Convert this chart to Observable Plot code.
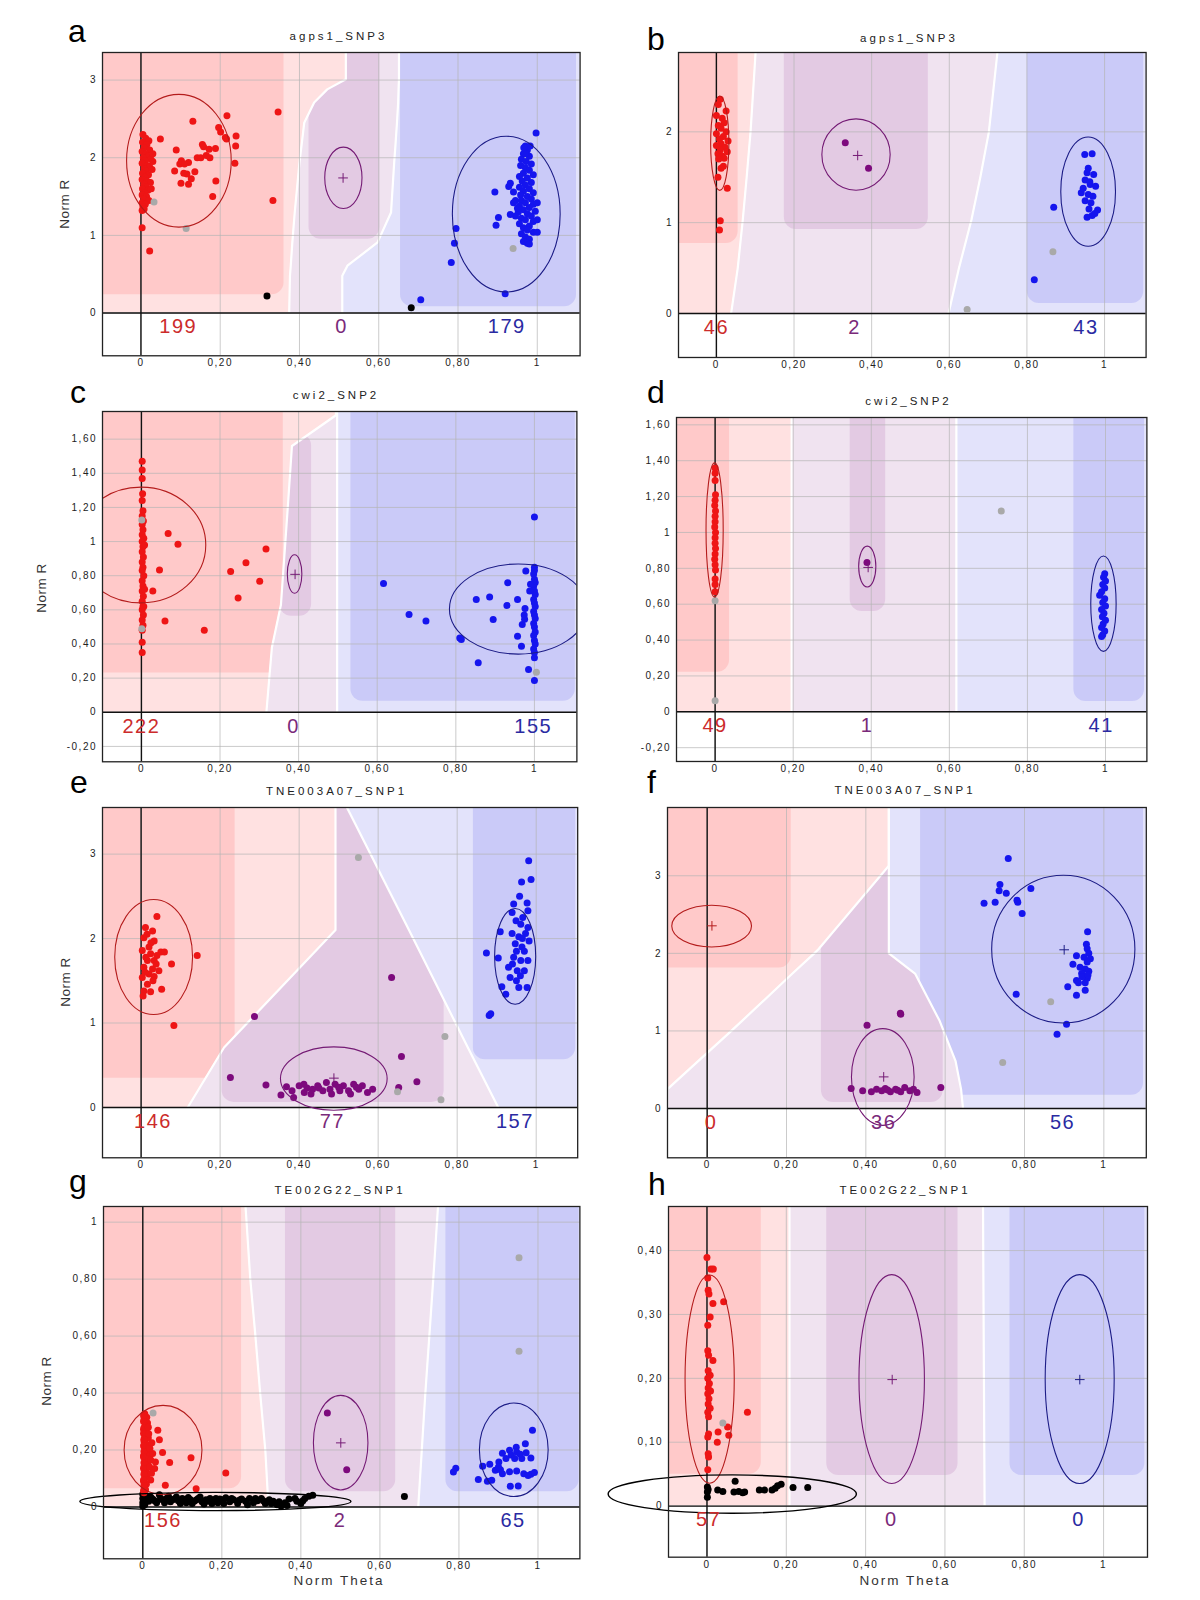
<!DOCTYPE html>
<html><head><meta charset="utf-8">
<script src="https://cdn.jsdelivr.net/npm/d3@7"></script>
<script src="https://cdn.jsdelivr.net/npm/@observablehq/plot@0.6"></script>
<style>
body{margin:0;background:#fff;}
#fig{position:relative;width:1200px;height:1600px;background:#fff;overflow:hidden;font-family:"Liberation Sans",Arial,sans-serif;}
.lbl{position:absolute;white-space:nowrap;line-height:1;color:#111;}
#fig svg text{letter-spacing:1.5px;}
</style></head><body><div id="fig"></div>
<script>
// ---------- tick values ----------
const xTicks = [0, 0.2, 0.4, 0.6, 0.8, 1];
const yTicksA = [0, 1, 2, 3];
const yTicksB = [0, 1, 2];
const yTicksC = [-0.2, 0, 0.2, 0.4, 0.6, 0.8, 1, 1.2, 1.4, 1.6];
const yTicksG = [0, 0.2, 0.4, 0.6, 0.8, 1];
const yTicksH = [0, 0.1, 0.2, 0.3, 0.4];

// ---------- titles / letters ----------
const panelLetters = ["a","b","c","d","e","f","g","h"];
const panelTitles = ["agps1_SNP3","agps1_SNP3","cwi2_SNP2","cwi2_SNP2","TNE003A07_SNP1","TNE003A07_SNP1","TE002G22_SNP1","TE002G22_SNP1"];

// ---------- panel a ----------
const aRed = [[0.005,2.3],[0.012,2.25],[0.02,2.22],[0.004,2.2],[0.015,2.17],[0.008,2.13],[0.022,2.1],[0.003,2.08],[0.012,2.05],[0.018,2.02],[0.006,2.0],[0.025,1.98],[0.01,1.96],[0.003,1.93],[0.016,1.9],[0.022,1.88],[0.008,1.86],[0.013,1.83],[0.004,1.8],[0.019,1.78],[0.01,1.75],[0.003,1.72],[0.015,1.7],[0.024,1.68],[0.007,1.66],[0.012,1.63],[0.004,1.6],[0.018,1.58],[0.009,1.55],[0.003,1.52],[0.014,1.5],[0.007,1.47],[0.02,1.45],[0.003,1.42],[0.011,1.4],[0.005,1.37],[0.008,1.34],[0.003,1.32],[0.03,1.95],[0.028,1.85],[0.03,2.05],[0.026,1.6],
 [0.003,1.10],[0.022,0.80],[0.049,2.24],[0.089,2.10],[0.085,1.83],[0.098,1.92],[0.102,1.96],[0.116,1.79],[0.101,1.67],[0.12,1.66],[0.127,1.73],[0.12,1.94],[0.136,1.82],[0.131,2.47],[0.142,2.0],[0.155,2.17],[0.151,2.0],[0.158,2.14],[0.174,2.0],[0.172,2.11],[0.165,2.03],[0.188,2.12],[0.189,1.70],[0.181,1.50],[0.196,2.39],[0.201,2.33],[0.217,2.54],[0.216,2.24],[0.213,2.26],[0.24,2.28],[0.239,2.15],[0.237,1.93],[0.346,2.59],[0.333,1.45],[0.11,1.92],[0.108,1.8]];
const aPurple = [];
const aBlue = [[0.97,2.15],[0.975,2.1],[0.965,2.05],[0.98,2.02],[0.96,1.98],[0.972,1.95],[0.985,1.92],[0.958,1.9],[0.97,1.87],[0.98,1.84],[0.965,1.8],[0.99,1.78],[0.955,1.76],[0.975,1.74],[0.962,1.7],[0.985,1.68],[0.97,1.65],[0.955,1.62],[0.98,1.6],[0.965,1.57],[0.99,1.55],[0.958,1.52],[0.975,1.5],[0.985,1.47],[0.96,1.45],[0.97,1.42],[0.99,1.4],[0.955,1.38],[0.98,1.36],[0.965,1.33],[0.995,1.31],[0.952,1.3],[0.975,1.28],[0.985,1.25],[0.96,1.22],[0.97,1.2],[0.99,1.18],[0.955,1.15],[0.98,1.12],[0.965,1.1],[0.975,1.07],[0.99,1.04],[0.96,1.02],[0.97,0.98],[0.98,0.95],[0.965,0.92],[0.975,0.9],[1.0,1.42],[1.0,1.2],[0.945,1.45],[0.945,1.25],
 [0.997,2.32],[0.982,2.15],[0.966,2.13],[0.97,2.05],[0.893,1.56],[0.932,1.67],[0.928,1.63],[0.94,1.56],[0.932,1.27],[0.902,1.23],[0.896,1.13],[0.795,1.09],[0.791,0.90],[0.783,0.65],[0.919,0.25],[0.706,0.17],[1.0,1.04],[0.98,0.89],[0.95,1.35],[0.94,1.42]];
const aGray = [[0.033,1.43],[0.114,1.09],[0.939,0.83]];
const aBlack = [[0.318,0.22],[0.682,0.07]];
const aEllipses = [["AA",0.097,1.955,0.132,0.855],["AB",0.512,1.735,0.047,0.395],["BB",0.923,1.268,0.136,1.003]];
const aCenters = [["AB",0.51,1.74]];
const aCounts = [["AA",0.094,"199"],["AB",0.506,"0"],["BB",0.923,"179"]];
const aBy = [0,0.48,0.61,0.91,1.295,1.94,2.15,2.45,2.71,2.88,3.01,3.355];
const aB1 = [0.374,0.376,0.378,0.382,0.388,0.4,0.405,0.412,0.437,0.47,0.517,0.517];
const aB2 = [0.508,0.508,0.521,0.597,0.631,0.639,0.642,0.646,0.649,0.65,0.651,0.651];
const aDark = [["AA",-0.3,0.361,0.236],["AB",0.424,0.603,0.95],["BB",0.655,1.099,0.08]];

// ---------- panel b ----------
const bRed = [[0.01,2.36],[0.005,2.3],[0.025,2.23],[0.0,2.18],[0.015,2.15],[0.02,2.1],[0.005,2.07],[0.012,2.04],[0.025,2.0],[0.0,1.98],[0.018,1.95],[0.008,1.92],[0.03,1.9],[0.012,1.87],[0.0,1.85],[0.022,1.83],[0.01,1.8],[0.028,1.78],[0.004,1.76],[0.015,1.73],[0.02,1.71],[0.006,1.7],[0.018,1.62],[0.012,1.6],[0.004,1.5],[0.028,1.38],[0.01,1.02],[0.008,0.92]];
const bPurple = [[0.332,1.88],[0.392,1.60]];
const bBlue = [[0.949,1.75],[0.968,1.76],[0.958,1.6],[0.955,1.55],[0.972,1.53],[0.95,1.47],[0.963,1.42],[0.977,1.4],[0.94,1.33],[0.958,1.31],[0.97,1.29],[0.95,1.24],[0.965,1.22],[0.96,1.15],[0.982,1.14],[0.968,1.08],[0.955,1.06],[0.975,1.1],[0.869,1.17],[0.819,0.37],[0.962,1.45],[0.945,1.38]];
const bGray = [[0.867,0.68],[0.646,0.044]];
const bBlack = [];
const bEllipses = [["AA",0.01,1.87,0.0235,0.52],["AB",0.361,1.745,0.088,0.393],["BB",0.959,1.336,0.0705,0.602]];
const bCenters = [["AB",0.364,1.74]];
const bCounts = [["AA",0.0,"46"],["AB",0.356,"2"],["BB",0.952,"43"]];
const bBy = [0,0.5,1.03,1.5,2.0,2.874];
const bB1 = [0.038,0.055,0.068,0.078,0.088,0.101];
const bB2 = [0.598,0.625,0.657,0.68,0.702,0.724];
const bDark = [["AA",-0.3,0.056,0.77],["AB",0.175,0.546,0.925],["BB",0.801,1.101,0.11]];

// ---------- panel c ----------
const cRed = [[0.002,1.47],[0.002,1.42],[0.002,1.37],[0.003,1.28],[0.002,1.24],[0.004,1.18],[0.002,1.15],[0.005,1.12],[0.002,1.1],[0.004,1.07],[0.002,1.04],[0.006,1.02],[0.002,1.0],[0.004,0.97],[0.002,0.94],[0.005,0.91],[0.002,0.88],[0.004,0.85],[0.002,0.83],[0.006,0.8],[0.002,0.77],[0.004,0.74],[0.002,0.71],[0.005,0.68],[0.002,0.65],[0.004,0.62],[0.002,0.6],[0.005,0.57],[0.002,0.54],[0.004,0.51],[0.002,0.48],[0.002,0.41],[0.002,0.35],
 [0.068,1.047],[0.093,0.984],[0.046,0.833],[0.029,0.71],[0.06,0.534],[0.16,0.481],[0.227,0.825],[0.266,0.876],[0.246,0.669],[0.301,0.767],[0.317,0.956],[0.008,0.98],[0.008,0.72],[0.006,0.62]];
const cPurple = [];
const cBlue = [[1.0,0.85],[1.0,0.83],[0.998,0.81],[1.0,0.78],[1.002,0.76],[0.998,0.74],[1.0,0.71],[1.002,0.69],[0.998,0.66],[1.0,0.64],[1.002,0.62],[0.998,0.59],[1.0,0.57],[1.002,0.55],[0.998,0.52],[1.0,0.5],[1.002,0.47],[0.998,0.45],[1.0,0.42],[1.002,0.4],[0.998,0.37],[1.0,0.35],[1.0,0.32],[1.0,1.144],[1.0,0.186],
 [0.616,0.755],[0.681,0.573],[0.724,0.534],[0.814,0.426],[0.81,0.435],[0.857,0.29],[0.852,0.661],[0.886,0.675],[0.932,0.759],[0.93,0.626],[0.957,0.661],[0.895,0.544],[0.976,0.608],[0.974,0.57],[0.969,0.514],[0.957,0.446],[0.967,0.387],[0.985,0.25],[0.978,0.827],[0.99,0.75],[0.988,0.71],[0.975,0.545]];
const cGray = [[0.001,1.127],[0.001,0.49],[1.005,0.235]];
const cBlack = [];
const cEllipses = [["AA",0.0,0.977,0.165,0.339],["AB",0.391,0.807,0.0185,0.1125],["BB",0.96,0.602,0.175,0.264]];
const cCenters = [["AB",0.391,0.808]];
const cCounts = [["AA",0.0,"222"],["AB",0.387,"0"],["BB",0.997,"155"]];
const cBy = [0,0.38,0.63,1.22,1.56,1.74,1.762];
const cB1 = [0.318,0.332,0.355,0.373,0.383,0.495,0.495];
const cB2 = [0.498,0.498,0.498,0.498,0.498,0.498,0.498];
const cDark = [["AA",-0.3,0.361,0.23],["AB",0.352,0.433,0.563,1.63],["BB",0.533,1.104,0.065]];

// ---------- panel d ----------
const dRed = [[0.0,1.36],[0.0,1.33],[0.0,1.29],[0.001,1.21],[0.0,1.18],[-0.001,1.15],[0.001,1.12],[0.0,1.09],[0.0,1.06],[-0.001,1.03],[0.001,1.0],[0.0,0.97],[0.0,0.94],[0.001,0.91],[0.0,0.88],[-0.001,0.85],[0.0,0.82],[0.001,0.79],[0.0,0.74],[0.0,0.71],[0.0,0.67]];
const dPurple = [[0.389,0.833]];
const dBlue = [[0.998,0.77],[0.995,0.75],[1.0,0.73],[0.993,0.71],[0.998,0.69],[0.99,0.67],[0.985,0.65],[0.998,0.63],[0.993,0.61],[1.0,0.59],[0.99,0.57],[0.996,0.55],[0.992,0.53],[1.0,0.51],[0.994,0.49],[0.99,0.47],[0.998,0.45],[0.993,0.43],[0.99,0.42]];
const dGray = [[0.0,0.619],[0.0,0.061],[0.733,1.12]];
const dBlack = [];
const dEllipses = [["AA",0.0,1.011,0.022,0.374],["AB",0.391,0.807,0.022,0.114],["BB",0.996,0.6,0.0325,0.266]];
const dCenters = [["AB",0.392,0.805]];
const dCounts = [["AA",0.0,"49"],["AB",0.389,"1"],["BB",0.989,"41"]];
const dBy = [0,1.641];
const dB1 = [0.196,0.196];
const dB2 = [0.618,0.618];
const dDark = [["AA",-0.3,0.037,0.22],["AB",0.346,0.437,0.559],["BB",0.919,1.1,0.058]];

// ---------- panel e ----------
const eRed = [[0.04,2.26],[0.011,2.13],[0.029,2.09],[0.007,2.01],[0.033,1.97],[0.02,1.90],[0.003,1.86],[0.024,1.82],[0.05,1.84],[0.059,1.84],[0.016,1.74],[0.033,1.74],[0.007,1.66],[0.029,1.64],[0.02,1.58],[0.003,1.54],[0.033,1.55],[0.016,1.46],[0.007,1.38],[0.024,1.37],[0.052,1.40],[0.005,1.32],[0.077,1.70],[0.142,1.80],[0.083,0.97],[0.012,1.78],[0.038,1.7],[0.025,1.95],[0.01,1.6],[0.045,1.62],[0.015,2.05],[0.03,1.5],[0.04,1.8]];
const ePurple = [[0.354,0.146],[0.368,0.245],[0.382,0.197],[0.4,0.256],[0.413,0.178],[0.412,0.276],[0.434,0.217],[0.447,0.256],[0.46,0.197],[0.469,0.296],[0.478,0.217],[0.491,0.276],[0.503,0.197],[0.512,0.256],[0.525,0.197],[0.538,0.276],[0.551,0.217],[0.56,0.256],[0.573,0.178],[0.586,0.217],[0.386,0.118],[0.43,0.158],[0.482,0.158],[0.53,0.158],[0.226,0.355],[0.316,0.265],[0.287,1.078],[0.634,1.54],[0.659,0.604],[0.652,0.237],[0.698,0.304],[0.45,0.23],[0.5,0.24],[0.545,0.24],[0.42,0.23]];
const eBlue = [[0.981,2.92],[0.987,2.70],[0.963,2.67],[0.958,2.50],[0.943,2.41],[0.977,2.42],[0.939,2.31],[0.979,2.33],[0.949,2.21],[0.966,2.25],[0.961,2.17],[0.979,2.13],[0.909,2.08],[0.939,2.06],[0.956,2.02],[0.973,2.06],[0.947,1.94],[0.964,1.90],[0.982,1.97],[0.874,1.83],[0.904,1.77],[0.943,1.78],[0.961,1.74],[0.93,1.66],[0.952,1.62],[0.979,1.74],[0.934,1.54],[0.96,1.56],[0.956,1.42],[0.977,1.42],[0.913,1.43],[0.923,1.34],[0.881,1.09],[0.885,1.11],[0.95,1.85],[0.97,1.85],[0.94,1.7],[0.965,2.0],[0.95,1.5],[0.97,1.62]];
const eGray = [[0.55,2.96],[0.769,0.84],[0.649,0.186],[0.759,0.091]];
const eBlack = [];
const eEllipses = [["AA",0.033,1.775,0.0985,0.681],["AB",0.489,0.336,0.135,0.375],["BB",0.948,1.783,0.052,0.567]];
const eCenters = [["AB",0.488,0.347]];
const eCounts = [["AA",0.03,"146"],["AB",0.484,"77"],["BB",0.946,"157"]];
const eBy = [0,0.71,2.1,3.552];
const eB1 = [0.118,0.21,0.492,0.492];
const eB2 = [0.904,0.827,0.678,0.521];
const eDark = [["AA",-0.3,0.238,0.347],["AB",0.205,0.767,0.06],["BB",0.841,1.1,0.565]];

// ---------- panel f ----------
const fRed = [];
const fPurple = [[0.363,0.258],[0.392,0.228],[0.414,0.215],[0.427,0.25],[0.44,0.228],[0.449,0.258],[0.462,0.215],[0.475,0.25],[0.488,0.215],[0.498,0.271],[0.511,0.228],[0.52,0.25],[0.529,0.206],[0.589,0.271],[0.403,1.074],[0.487,1.229],[0.488,1.215],[0.455,0.24],[0.48,0.235]];
const fBlue = [[0.959,2.278],[0.956,2.119],[0.958,2.06],[0.962,2.0],[0.931,1.968],[0.95,1.95],[0.966,1.93],[0.958,1.89],[0.922,1.861],[0.94,1.82],[0.953,1.8],[0.962,1.77],[0.944,1.74],[0.931,1.65],[0.958,1.68],[0.909,1.569],[0.936,1.62],[0.953,1.62],[0.931,1.461],[0.953,1.526],[0.759,3.223],[0.738,2.888],[0.736,2.806],[0.754,2.776],[0.816,2.836],[0.698,2.647],[0.726,2.66],[0.781,2.686],[0.783,2.66],[0.794,2.514],[0.779,1.474],[0.906,1.087],[0.882,0.958],[0.945,1.7],[0.96,1.72]];
const fGray = [[0.866,1.375],[0.745,0.593]];
const fBlack = [];
const fEllipses = [["AA",0.0125,2.345,0.1005,0.269],["AB",0.444,0.4,0.079,0.623],["BB",0.899,2.048,0.1805,0.952]];
const fCenters = [["AA",0.012,2.355],["AB",0.445,0.408],["BB",0.9,2.046]];
const fCounts = [["AA",0.01,"0"],["AB",0.445,"36"],["BB",0.896,"56"]];
const fBy = [0,0.25,0.615,0.95,1.13,1.74,2.0,2.05,3.13,3.88];
const fB1 = [-0.1,-0.1,-0.022,0.05,0.088,0.215,0.27,0.28,0.458,0.458];
const fB2 = [0.645,0.64,0.626,0.6,0.586,0.524,0.458,0.458,0.458,0.458];
const fDark = [["AA",-0.3,0.212,1.81],["AB",0.288,0.595,0.077],["BB",0.538,1.1,0.17]];

// ---------- panel g ----------
const gRed = [[0.005,0.327],[0.01,0.315],[0.003,0.305],[0.012,0.295],[0.006,0.285],[0.002,0.272],[0.01,0.262],[0.005,0.25],[0.014,0.242],[0.003,0.232],[0.009,0.22],[0.004,0.21],[0.012,0.2],[0.006,0.19],[0.002,0.18],[0.01,0.17],[0.005,0.16],[0.013,0.15],[0.003,0.14],[0.008,0.13],[0.004,0.12],[0.011,0.11],[0.005,0.1],[0.002,0.09],[0.009,0.08],[0.004,0.07],[0.007,0.06],[0.003,0.05],
 [0.002,0.32],[0.002,0.3],[0.003,0.278],[0.002,0.258],[0.003,0.238],[0.002,0.215],[0.003,0.195],[0.002,0.175],[0.003,0.155],[0.002,0.135],[0.003,0.115],[0.002,0.095],[0.003,0.075],[0.002,0.058],
 [0.016,0.21],[0.018,0.18],[0.015,0.17],[0.017,0.14],[0.014,0.28],
 [0.038,0.269],[0.042,0.236],[0.023,0.225],[0.05,0.191],[0.025,0.188],[0.02,0.165],[0.032,0.158],[0.03,0.135],[0.068,0.156],[0.122,0.173],[0.022,0.118],[0.057,0.076],[0.135,0.064],[0.21,0.119],[0.015,0.257],[0.018,0.205],[0.02,0.095]];
const gPurple = [[0.467,0.33],[0.516,0.131]];
const gBlue = [[0.986,0.269],[0.968,0.222],[0.945,0.21],[0.946,0.193],[0.928,0.199],[0.91,0.189],[0.932,0.182],[0.919,0.17],[0.941,0.17],[0.959,0.17],[0.982,0.172],[0.901,0.158],[0.878,0.15],[0.892,0.129],[0.86,0.143],[0.928,0.124],[0.946,0.126],[0.964,0.117],[0.982,0.115],[0.991,0.121],[0.905,0.131],[0.91,0.117],[0.883,0.094],[0.872,0.09],[0.849,0.096],[0.93,0.073],[0.95,0.074],[0.792,0.136],[0.786,0.123],[0.955,0.185],[0.97,0.19],[0.9,0.14],[0.975,0.11]];
const gGray = [[0.026,0.33],[0.952,0.875],[0.952,0.547]];
const gBlack = [[0.0,0.045],[0.0,0.03],[0.0,0.015],[0.0,0.003],[0.01,0.035],[0.015,0.02],[0.025,0.028],[0.035,0.015],[0.042,0.043],[0.05,0.025],[0.06,0.03],[0.07,0.018],[0.08,0.028],[0.09,0.022],[0.1,0.03],[0.11,0.015],[0.12,0.026],[0.13,0.02],[0.14,0.03],[0.15,0.018],[0.16,0.025],[0.17,0.03],[0.18,0.02],[0.19,0.015],[0.2,0.025],[0.21,0.032],[0.22,0.018],[0.23,0.025],[0.24,0.012],[0.25,0.028],[0.26,0.02],[0.27,0.03],[0.28,0.015],[0.29,0.022],[0.3,0.03],[0.31,0.012],[0.32,0.025],[0.33,0.02],[0.34,0.008],[0.35,0.003],[0.36,0.015],[0.37,0.028],[0.39,0.02],[0.4,0.012],[0.41,0.03],[0.42,0.038],[0.43,0.041],
 [0.005,0.038],[0.005,0.022],[0.005,0.008],[0.02,0.035],[0.03,0.022],[0.045,0.03],[0.055,0.015],[0.065,0.038],[0.075,0.025],[0.085,0.035],[0.095,0.012],[0.105,0.022],[0.115,0.033],[0.125,0.012],[0.135,0.024],[0.145,0.035],[0.155,0.01],[0.165,0.02],[0.175,0.012],[0.185,0.03],[0.195,0.028],[0.205,0.012],[0.225,0.03],[0.245,0.024],[0.265,0.008],[0.285,0.03],[0.305,0.022],[0.325,0.012],[0.345,0.018],[0.365,0.005],[0.385,0.03],[0.405,0.022],[0.662,0.037]];
const gEllipses = [["AA",0.0525,0.198,0.0985,0.157],["AB",0.502,0.224,0.069,0.166],["BB",0.94,0.199,0.087,0.164],["NC",0.185,0.0175,0.343,0.032]];
const gCenters = [["AB",0.501,0.225]];
const gCounts = [["AA",0.051,"156"],["AB",0.499,"2"],["BB",0.937,"65"]];
const gBy = [0,0.2,0.4,0.6,0.8,1.055];
const gB1 = [0.318,0.31,0.297,0.285,0.272,0.26];
const gB2 = [0.697,0.706,0.715,0.725,0.735,0.747];
const gDark = [["AA",-0.3,0.25,0.064],["AB",0.361,0.64,0.053],["BB",0.767,1.104,0.053]];

// ---------- panel h ----------
const hRed = [[0.0,0.389],[0.01,0.371],[0.016,0.371],[0.002,0.357],[0.003,0.338],[0.005,0.332],[0.015,0.317],[0.042,0.32],[0.008,0.296],[0.002,0.283],[0.002,0.243],[0.004,0.236],[0.015,0.228],[0.003,0.212],[0.008,0.205],[0.002,0.2],[0.006,0.192],[0.003,0.185],[0.009,0.18],[0.002,0.176],[0.005,0.168],[0.003,0.16],[0.008,0.153],[0.002,0.147],[0.004,0.14],[0.102,0.147],[0.052,0.124],[0.028,0.116],[0.055,0.111],[0.004,0.113],[0.002,0.108],[0.026,0.1],[0.003,0.082],[0.004,0.077],[0.002,0.057]];
const hPurple = [];
const hBlue = [];
const hGray = [[0.04,0.13]];
const hBlack = [[0.001,0.03],[0.001,0.022],[0.001,0.014],[0.003,0.026],[0.027,0.025],[0.04,0.023],[0.071,0.039],[0.068,0.022],[0.08,0.023],[0.09,0.021],[0.095,0.022],[0.132,0.025],[0.145,0.025],[0.164,0.025],[0.178,0.032],[0.187,0.034],[0.172,0.028],[0.217,0.029],[0.254,0.029]];
const hEllipses = [["AA",0.008,0.198,0.062,0.163],["AB",0.467,0.198,0.0825,0.1635],["BB",0.941,0.198,0.087,0.1635],["NC",0.065,0.018,0.313,0.030]];
const hCenters = [["AB",0.467,0.198],["BB",0.94,0.198]];
const hCounts = [["AA",0.004,"57"],["AB",0.465,"0"],["BB",0.937,"0"]];
const hBy = [0,0.469];
const hB1 = [0.208,0.208];
const hB2 = [0.70,0.696];
const hDark = [["AA",-0.3,0.137,0.05],["AB",0.302,0.633,0.048],["BB",0.764,1.104,0.048]];

// ---------- styling ----------
const COL = {
  AA: {light:"#ffe1e1", dark:"#ffc9c9", dot:"#ee1515", ell:"#b41c1c", txt:"#cc2b2b"},
  AB: {light:"#f0e3f0", dark:"#e3cae3", dot:"#7d0a7d", ell:"#741a74", txt:"#7a2a7a"},
  BB: {light:"#e3e3fb", dark:"#cacaf8", dot:"#1515ee", ell:"#1c1c86", txt:"#2a2aa2"},
  NC: {ell:"#000000"}
};
const fmt = d => d === 0 ? "0" : Number.isInteger(d) ? String(d) : d.toFixed(2).replace(".", ",");

// layout (pixel frame of each panel + domains)
const layout = [
  {L:101.7,T:51.7,R:579.3,B:355,  xd:[-0.097,1.108], yd:[-0.55,3.355], yt:yTicksA, letter:[68,42],  title:[338.5,41],  normR:[65,204]},
  {L:678.4,T:52.3,R:1146,B:357.3, xd:[-0.0976,1.107],yd:[-0.485,2.874],yt:yTicksB, letter:[647,50], title:[909,43]},
  {L:101.8,T:410.7,R:576.2,B:761, xd:[-0.099,1.108], yd:[-0.29,1.762], yt:yTicksC, letter:[70,403], title:[336,400], normR:[42,588]},
  {L:675.6,T:416.7,R:1146,B:760.7,xd:[-0.0989,1.106],yd:[-0.277,1.641],yt:yTicksC, letter:[647,403],title:[908.5,406]},
  {L:101.7,T:806.7,R:576.9,B:1157,xd:[-0.0977,1.105],yd:[-0.596,3.552],yt:yTicksA, letter:[70,793], title:[336.5,796], normR:[66,982]},
  {L:667.2,T:806.7,R:1146,B:1157, xd:[-0.1,1.107],   yd:[-0.635,3.88], yt:yTicksA, letter:[647,793],title:[905,795]},
  {L:102.5,T:1206,R:578.9,B:1558.3,xd:[-0.0994,1.106],yd:[-0.182,1.055],yt:yTicksG,letter:[69,1192],title:[340,1195], normR:[47,1381], theta:[339,1585]},
  {L:668.2,T:1206,R:1147.2,B:1556.7,xd:[-0.097,1.1107],yd:[-0.08,0.469],yt:yTicksH,letter:[648,1195],title:[905,1195], theta:[905,1585]}
];
const panelData = [
  {red:aRed,purple:aPurple,blue:aBlue,gray:aGray,black:aBlack,ell:aEllipses,ctr:aCenters,cnt:aCounts,by:aBy,b1:aB1,b2:aB2,dark:aDark},
  {red:bRed,purple:bPurple,blue:bBlue,gray:bGray,black:bBlack,ell:bEllipses,ctr:bCenters,cnt:bCounts,by:bBy,b1:bB1,b2:bB2,dark:bDark},
  {red:cRed,purple:cPurple,blue:cBlue,gray:cGray,black:cBlack,ell:cEllipses,ctr:cCenters,cnt:cCounts,by:cBy,b1:cB1,b2:cB2,dark:cDark},
  {red:dRed,purple:dPurple,blue:dBlue,gray:dGray,black:dBlack,ell:dEllipses,ctr:dCenters,cnt:dCounts,by:dBy,b1:dB1,b2:dB2,dark:dDark},
  {red:eRed,purple:ePurple,blue:eBlue,gray:eGray,black:eBlack,ell:eEllipses,ctr:eCenters,cnt:eCounts,by:eBy,b1:eB1,b2:eB2,dark:eDark},
  {red:fRed,purple:fPurple,blue:fBlue,gray:fGray,black:fBlack,ell:fEllipses,ctr:fCenters,cnt:fCounts,by:fBy,b1:fB1,b2:fB2,dark:fDark},
  {red:gRed,purple:gPurple,blue:gBlue,gray:gGray,black:gBlack,ell:gEllipses,ctr:gCenters,cnt:gCounts,by:gBy,b1:gB1,b2:gB2,dark:gDark},
  {red:hRed,purple:hPurple,blue:hBlue,gray:hGray,black:hBlack,ell:hEllipses,ctr:hCenters,cnt:hCounts,by:hBy,b1:hB1,b2:hB2,dark:hDark}
];

const fig = document.getElementById("fig");
function addText(str, x, baseline, size, opts = {}) {
  const el = document.createElement("div");
  el.className = "lbl";
  el.textContent = str;
  el.style.fontSize = size + "px";
  el.style.left = x + "px";
  el.style.top = (baseline - 0.8465 * size) + "px";
  if (opts.spacing) el.style.letterSpacing = opts.spacing + "px";
  if (opts.center) el.style.transform = "translateX(-50%)";
  if (opts.color) el.style.color = opts.color;
  fig.appendChild(el);
  return el;
}
function addRotated(str, cx, cy, size) {
  const el = document.createElement("div");
  el.className = "lbl";
  el.textContent = str;
  el.style.fontSize = size + "px";
  el.style.left = cx + "px";
  el.style.top = cy + "px";
  el.style.letterSpacing = "0.5px";
  el.style.color = "#333";
  el.style.transform = "translate(-50%,-50%) rotate(-90deg)";
  fig.appendChild(el);
}

function applyClip(svg, regionDesc, targetDesc, id) {
  const reg = svg.querySelector(`g[aria-description="${regionDesc}"] path`);
  const tgt = svg.querySelector(`g[aria-description="${targetDesc}"]`);
  if (!reg || !tgt) return;
  const ns = "http://www.w3.org/2000/svg";
  let defs = svg.querySelector("defs");
  if (!defs) { defs = document.createElementNS(ns, "defs"); svg.insertBefore(defs, svg.firstChild); }
  const cp = document.createElementNS(ns, "clipPath");
  cp.setAttribute("id", id);
  const p = document.createElementNS(ns, "path");
  p.setAttribute("d", reg.getAttribute("d"));
  cp.appendChild(p);
  defs.appendChild(cp);
  tgt.setAttribute("clip-path", `url(#${id})`);
}

function buildPanel(k) {
  const P = layout[k], D = panelData[k];
  const ML = 52, MR = 4, MT = 4, MB = 24;
  const W = P.R - P.L, H = P.B - P.T;
  const idx = d3.range(D.by.length);
  const [xmin, xmax] = P.xd;
  const ytop = P.yd[1];
  const px = d => d[0], py = d => d[1];
  const dots = (data, fill) => Plot.dot(data, {x: px, y: py, r: 3.5, fill, stroke: "none"});
  const marks = [
    Plot.areaX(idx, {y: i => D.by[i], x1: () => xmin, x2: i => D.b1[i], fill: COL.AA.light, ariaDescription: "rAA"}),
    Plot.areaX(idx, {y: i => D.by[i], x1: i => D.b1[i], x2: i => D.b2[i], fill: COL.AB.light, ariaDescription: "rAB"}),
    Plot.areaX(idx, {y: i => D.by[i], x1: i => D.b2[i], x2: () => xmax, fill: COL.BB.light, ariaDescription: "rBB"})
  ];
  for (const d of D.dark) {
    marks.push(Plot.rect([d], {x1: d => d[1], x2: d => d[2], y1: d => d[3], y2: d => (d[4] !== undefined ? d[4] : ytop + 1),
      fill: COL[d[0]].dark, rx: 12, ry: 12, ariaDescription: "d" + d[0]}));
  }
  marks.push(
    Plot.line(idx, {x: i => D.b1[i], y: i => D.by[i], stroke: "white", strokeWidth: 2.2, clip: true}),
    Plot.line(idx, {x: i => D.b2[i], y: i => D.by[i], stroke: "white", strokeWidth: 2.2, clip: true}),
    Plot.gridX(xTicks, {stroke: "#b4b4b4", strokeOpacity: 0.7, strokeWidth: 1}),
    Plot.gridY(P.yt, {stroke: "#b4b4b4", strokeOpacity: 0.7, strokeWidth: 1}),
    Plot.ruleY([0], {stroke: "#111", strokeWidth: 1.4}),
    Plot.ruleX([0], {stroke: "#111", strokeWidth: 1.4}),
    dots(D.black, "#000"),
    dots(D.red, COL.AA.dot),
    dots(D.purple, COL.AB.dot),
    dots(D.blue, COL.BB.dot),
    dots(D.gray, "#a9a9a9")
  );
  for (const cls of ["AA","AB","BB","NC"]) {
    const e = D.ell.filter(d => d[0] === cls);
    if (!e.length) continue;
    marks.push(Plot.rect(e, {x1: d => d[1] - d[3], x2: d => d[1] + d[3], y1: d => d[2] - d[4], y2: d => d[2] + d[4],
      fill: "none", stroke: COL[cls].ell, strokeWidth: cls === "NC" ? 1.4 : 1.1, rx: 5000, ry: 5000, clip: cls !== "NC"}));
  }
  for (const cls of ["AA","AB","BB"]) {
    const c = D.ctr.filter(d => d[0] === cls);
    if (c.length) marks.push(Plot.dot(c, {x: d => d[1], y: d => d[2], symbol: "plus", r: 3.2, stroke: COL[cls].ell, strokeWidth: 1}));
    const t = D.cnt.filter(d => d[0] === cls);
    marks.push(Plot.text(t, {x: d => d[1], y: () => 0, text: d => d[2], fill: COL[cls].txt, fontSize: 20, dy: 14, lineAnchor: "middle"}));
  }
  marks.push(
    Plot.frame({stroke: "#222", strokeWidth: 1.3}),
    Plot.axisX(xTicks, {tickFormat: fmt, tickSize: 0, tickPadding: 3.5, fontSize: 10, label: null, fill: "#222"}),
    Plot.axisY(P.yt, {tickFormat: fmt, tickSize: 0, tickPadding: 5.5, fontSize: 10, label: null, fill: "#222"})
  );
  const svg = Plot.plot({
    width: W + ML + MR, height: H + MT + MB,
    marginLeft: ML, marginRight: MR, marginTop: MT, marginBottom: MB,
    x: {domain: P.xd}, y: {domain: P.yd},
    style: {fontFamily: "'Liberation Sans', Arial, sans-serif", fontSize: "10px", overflow: "visible", background: "transparent"},
    marks
  });
  for (const cls of ["AA","AB","BB"]) applyClip(svg, "r" + cls, "d" + cls, `clip${k}${cls}`);
  svg.style.position = "absolute";
  svg.style.left = (P.L - ML) + "px";
  svg.style.top = (P.T - MT) + "px";
  fig.appendChild(svg);

  addText(panelLetters[k], P.letter[0], P.letter[1], 32, {color: "#000"});
  addText(panelTitles[k], P.title[0], P.title[1], 11.5, {center: true, spacing: 3, color: "#222"});
  if (P.normR) addRotated("Norm R", P.normR[0], P.normR[1], 13.5);
  if (P.theta) addText("Norm Theta", P.theta[0], P.theta[1], 13.5, {center: true, spacing: 2, color: "#333"});
}
for (let k = 0; k < 8; k++) buildPanel(k);
</script></body></html>
